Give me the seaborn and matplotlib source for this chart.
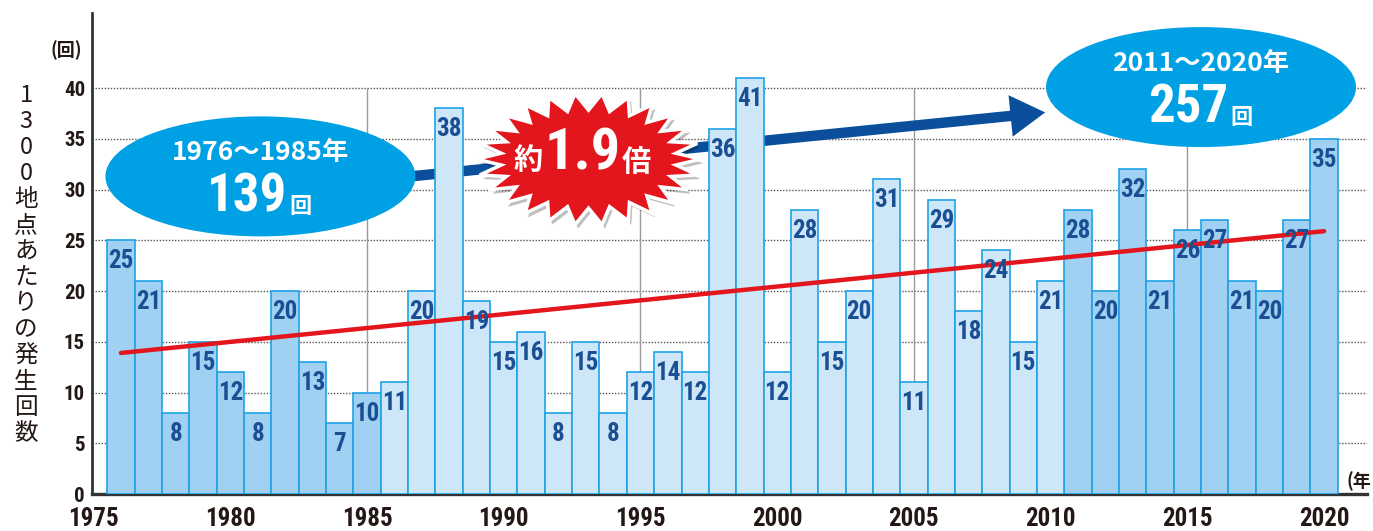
import numpy as np
import pandas as pd
import matplotlib
matplotlib.use("Agg")
import matplotlib.pyplot as plt
import seaborn as sns
from matplotlib import font_manager
from matplotlib.patches import Ellipse, Polygon, FancyArrowPatch

# ---------------- data ----------------
years = list(range(1976, 2021))
counts = [25, 21, 8, 15, 12, 8, 20, 13, 7, 10,
          11, 20, 38, 19, 15, 16, 8, 15, 8, 12, 14, 12, 36, 41, 12,
          28, 15, 20, 31, 11, 29, 18, 24, 15, 21,
          28, 20, 32, 21, 26, 27, 21, 20, 27, 35]
x_ticks = [1975, 1980, 1985, 1990, 1995, 2000, 2005, 2010, 2015, 2020]
y_ticks = [0, 5, 10, 15, 20, 25, 30, 35, 40]
decade_lines = [1985, 1995, 2005, 2015]
trend_years = [1976, 2020]
trend_values = [13.9, 25.9]
early_period = "1976〜1985年"
early_total = "139"
late_period = "2011〜2020年"
late_total = "257"
ratio_text = "1.9"
ylabel_text = "1300地点あたりの発生回数"

# ---------------- style ----------------
sns.set_style("white")
names = {f.name for f in font_manager.fontManager.ttflist}
NARROW = "DejaVu Sans"
for cand in ["Liberation Sans Narrow", "DejaVu Sans Condensed", "Roboto Condensed", "Open Sans Condensed"]:
    if cand in names:
        NARROW = cand
        break
JP = "Noto Sans CJK JP"
plt.rcParams["font.family"] = [JP, "DejaVu Sans"]

TXT = "#231815"
DARK = "#a0d1f2"
LIGHT = "#cde6f8"
EDGE = "#1ea2e6"
LABEL = "#1b4f93"
CYAN = "#00a0e4"
NAVY = "#0b4f9c"
RED = "#e2161c"

W, H = 1373, 531
fig = plt.figure(figsize=(W / 100, H / 100), dpi=100)
ax = fig.add_axes([92 / W, 37 / H, 1275 / W, 481 / H])

periods = ["base" if (y <= 1985 or y >= 2011) else "mid" for y in years]
df = pd.DataFrame({"year": years, "count": counts, "period": periods})

sns.barplot(data=df, x="year", y="count", hue="period",
            palette={"base": DARK, "mid": LIGHT}, native_scale=True,
            dodge=False, width=1.0, saturation=1, edgecolor=EDGE,
            linewidth=1.2, legend=False, ax=ax, zorder=3)

ax.set_xlim(1974.94, 2021.57)
ax.set_ylim(0, 47.4)
ax.set_xlabel("")
ax.set_ylabel("")

# grid
ax.set_yticks(y_ticks)
ax.set_xticks(x_ticks)
ax.yaxis.grid(True, linestyle=(0, (1, 1.2)), color="#555555", lw=1.0)
ax.xaxis.grid(False)
ax.set_axisbelow(True)
ax.vlines(decade_lines, 0, 40, color="#9a9a9a", lw=1.0, zorder=1)

for s in ["top", "right"]:
    ax.spines[s].set_visible(False)
ax.spines["left"].set_linewidth(2.0)
ax.spines["bottom"].set_linewidth(2.4)
ax.spines["left"].set_color("#333333")
ax.spines["bottom"].set_color("#333333")
ax.tick_params(axis="both", length=0)
ax.tick_params(axis="y", pad=5)
ax.tick_params(axis="x", pad=9)
ax.set_yticklabels([str(v) for v in y_ticks], fontsize=15, fontweight="bold",
                   color=TXT, family=[NARROW, "DejaVu Sans"])
ax.set_xticklabels([str(v) for v in x_ticks], fontsize=18, fontweight="bold",
                   color=TXT, family=[NARROW, "DejaVu Sans"])

# trend
sns.lineplot(x=trend_years, y=trend_values, color=RED, lw=3.2, ax=ax, zorder=4)

# bar labels
for yr, c in zip(years, counts):
    ax.annotate(str(c), xy=(yr, c), xytext=(0, -6.5), textcoords="offset points",
                ha="center", va="top", fontsize=18, fontweight="bold",
                color=LABEL, family=[NARROW, "DejaVu Sans"], zorder=6)

# helpers: pixel offsets -> data
PX_X = 1275 / (2021.57 - 1974.94)
PX_Y = 481 / 47.4
PT = 0.72  # px -> pt at 100 dpi

# arrow
arrow = FancyArrowPatch((1986.6, 31.3), (2009.8, 37.6),
                        arrowstyle="simple,head_length=2.5,head_width=3.0,tail_width=0.75",
                        mutation_scale=10, color=NAVY, lw=0, zorder=2.5,
                        shrinkA=0, shrinkB=0)
ax.add_patch(arrow)

# ellipses
def bubble(cx, cy, period, total):
    ax.add_patch(Ellipse((cx, cy), 310 / PX_X, 120 / PX_Y, color=CYAN, zorder=5, lw=0))
    ax.annotate(period, xy=(cx, cy), xytext=(0, 24 * PT), textcoords="offset points",
                ha="center", va="center", fontsize=19, fontweight="bold",
                color="white", zorder=7)
    ax.annotate(total, xy=(cx, cy), xytext=(27 * PT, -21 * PT), textcoords="offset points",
                ha="right", va="center", fontsize=38, fontweight="bold",
                color="white", family=[NARROW, "DejaVu Sans"], zorder=7)
    ax.annotate("回", xy=(cx, cy), xytext=(29 * PT, -30 * PT), textcoords="offset points",
                ha="left", va="center", fontsize=16, fontweight="bold",
                color="white", zorder=7)

bubble(1981.1, 31.3, early_period, early_total)
bubble(2015.5, 40.1, late_period, late_total)

# starburst
scx, scy = 1993.1, 33.0
n = 26
pts = []
for k in range(2 * n):
    ang = np.pi * k / n
    a, b = (112, 66) if k % 2 == 0 else (88, 49)
    pts.append((scx + a * np.cos(ang) / PX_X, scy + b * np.sin(ang) / PX_Y))
pts = np.array(pts)
shadow = pts + np.array([3 / PX_X, -4 / PX_Y])
ax.add_patch(Polygon(shadow, closed=True, facecolor="#000000", alpha=0.25, lw=0, zorder=4.8))
ax.add_patch(Polygon(pts, closed=True, facecolor=RED, edgecolor="white", lw=2.5, zorder=5))
ax.annotate("約", xy=(scx, scy), xytext=(-60 * PT, -1 * PT), textcoords="offset points",
            ha="center", va="center", fontsize=21, fontweight="bold", color="white", zorder=7)
ax.annotate(ratio_text, xy=(scx, scy), xytext=(-6 * PT, 5 * PT), textcoords="offset points",
            ha="center", va="center", fontsize=42, fontweight="bold", color="white",
            family=[NARROW, "DejaVu Sans"], zorder=7)
ax.annotate("倍", xy=(scx, scy), xytext=(48 * PT, -3 * PT), textcoords="offset points",
            ha="center", va="center", fontsize=21, fontweight="bold", color="white", zorder=7)

# y label, stacked vertically
for i, ch in enumerate(ylabel_text):
    fig.text(26 / W, 1 - (96 + 26 * i) / H, ch, ha="center", va="center",
             fontsize=17, color=TXT)

fig.text(66 / W, 1 - 50 / H, "(回)", ha="center", va="center", fontsize=13,
         fontweight="bold", color=TXT)
fig.text(1346 / W, 1 - 481 / H, "(年", ha="left", va="center", fontsize=13,
         fontweight="bold", color=TXT)

fig.savefig("out.png", dpi=100, facecolor="white")
